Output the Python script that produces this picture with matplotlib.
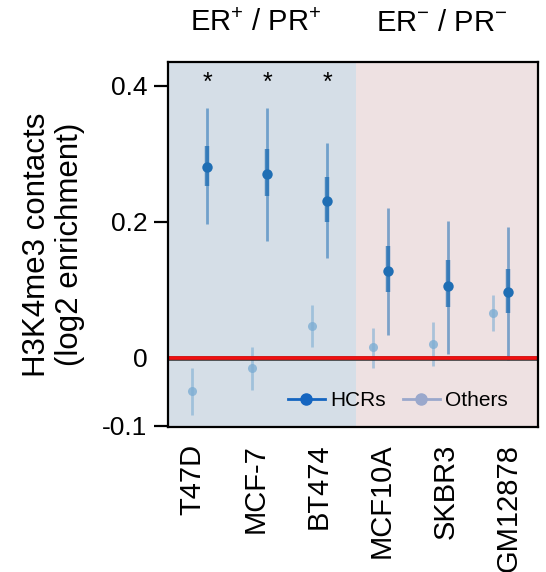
import numpy as np
import matplotlib
matplotlib.use("Agg")
import matplotlib.pyplot as plt
from matplotlib.lines import Line2D
import matplotlib.patheffects as pe

plt.rcParams["font.family"] = ["Liberation Sans", "DejaVu Sans"]
plt.rcParams["mathtext.fontset"] = "custom"
plt.rcParams["mathtext.rm"] = "Liberation Sans"
plt.rcParams["mathtext.it"] = "Liberation Sans"

# Cell lines and group labels
cell_lines = ["T47D", "MCF-7", "BT474", "MCF10A", "SKBR3", "GM12878"]
group_labels = ["ER$^{+}$ / PR$^{+}$", "ER$^{-}$ / PR$^{-}$"]

# HCR enrichment: mean, inner interval, outer interval
hcr_mean = [0.281, 0.271, 0.231, 0.128, 0.106, 0.097]
hcr_inner_lo = [0.253, 0.238, 0.200, 0.096, 0.075, 0.066]
hcr_inner_hi = [0.312, 0.307, 0.266, 0.165, 0.144, 0.130]
hcr_outer_lo = [0.197, 0.171, 0.146, 0.034, 0.005, -0.004]
hcr_outer_hi = [0.368, 0.368, 0.316, 0.221, 0.201, 0.192]

# Other regions: mean and interval
oth_mean = [-0.049, -0.016, 0.046, 0.015, 0.020, 0.065]
oth_lo = [-0.085, -0.048, 0.016, -0.015, -0.012, 0.039]
oth_hi = [-0.015, 0.016, 0.077, 0.044, 0.052, 0.092]

significant = [True, True, True, False, False, False]

hcr_color = "#1f6eb4"
oth_color = "#7eaed4"
bg_pos = "#d5dee7"
bg_neg = "#eee1e2"

fig = plt.figure(figsize=(5.46, 5.72), dpi=100)
ax = fig.add_axes([168 / 546, 1 - 427 / 572, 370 / 546, 365 / 572])

x = np.arange(len(cell_lines))
dx = 0.125
x_oth = x - dx
x_hcr = x + dx

ax.set_xlim(-0.533, 5.633)
ax.set_ylim(-0.1022, 0.4353)

# Receptor-status shading
ax.axvspan(-0.533, 2.6, color=bg_pos, zorder=0, lw=0)
ax.axvspan(2.6, 5.633, color=bg_neg, zorder=0, lw=0)

# Others
ax.vlines(x_oth, oth_lo, oth_hi, color=oth_color, lw=2.0, alpha=0.6, zorder=2)
ax.plot(x_oth, oth_mean, "o", color=oth_color, ms=6.5, alpha=0.8, mec="none", zorder=4)

# HCRs
ax.vlines(x_hcr, hcr_outer_lo, hcr_outer_hi, color=hcr_color, lw=2.0, alpha=0.55, zorder=2)
ax.vlines(x_hcr, hcr_inner_lo, hcr_inner_hi, color=hcr_color, lw=3.2, alpha=0.75, zorder=2)
ax.plot(x_hcr, hcr_mean, "o", color=hcr_color, ms=7.5, mec="none", zorder=4)

# Zero line
ax.axhline(0, color="#f01010", lw=2.6, zorder=3,
           path_effects=[pe.withStroke(linewidth=3.3, foreground="#333333")])

# Significance stars
for xi, sig in zip(x_hcr, significant):
    if sig:
        ax.text(xi, 0.404, "*", ha="center", va="center", fontsize=18, color="black")

# Axes styling
for s in ax.spines.values():
    s.set_linewidth(1.6)
    s.set_color("black")
    s.set_zorder(5)

yticks = [-0.1, 0, 0.2, 0.4]
ax.set_yticks(yticks)
ax.set_yticklabels(["-0.1", "0", "0.2", "0.4"])
ax.tick_params(axis="y", length=10, width=1.6, pad=5, labelsize=19)
ax.yaxis.get_major_ticks()[1].tick1line.set_visible(False)

label_pos = np.arange(len(cell_lines)) * 1.053 - 0.125
ax.set_xticks(label_pos)
ax.set_xticklabels(cell_lines, rotation=90, fontsize=21)
ax.tick_params(axis="x", length=0, pad=12)

# Y label
fig.text(53.5 / 546, 1 - 244.5 / 572, "H3K4me3 contacts\n(log2 enrichment)",
         rotation=90, ha="center", va="center", fontsize=22.5, multialignment="center",
         linespacing=1.15)

# Group headers
fig.text(256 / 546, 1 - 23 / 572, group_labels[0], ha="center", va="center", fontsize=21)
fig.text(442 / 546, 1 - 23 / 572, group_labels[1], ha="center", va="center", fontsize=21)

# Legend
handles = [
    Line2D([], [], color="#1565c0", marker="o", ms=8, lw=2),
    Line2D([], [], color="#9aa8cc", marker="o", ms=8, lw=2),
]
ax.legend(handles, ["HCRs", "Others"], ncol=2, frameon=False, fontsize=15,
          loc="center right", bbox_to_anchor=(340 / 370, 26 / 365),
          borderaxespad=0, borderpad=0, handlelength=1.8, handletextpad=0.25,
          columnspacing=0.8)

fig.savefig("out.png", dpi=100)
